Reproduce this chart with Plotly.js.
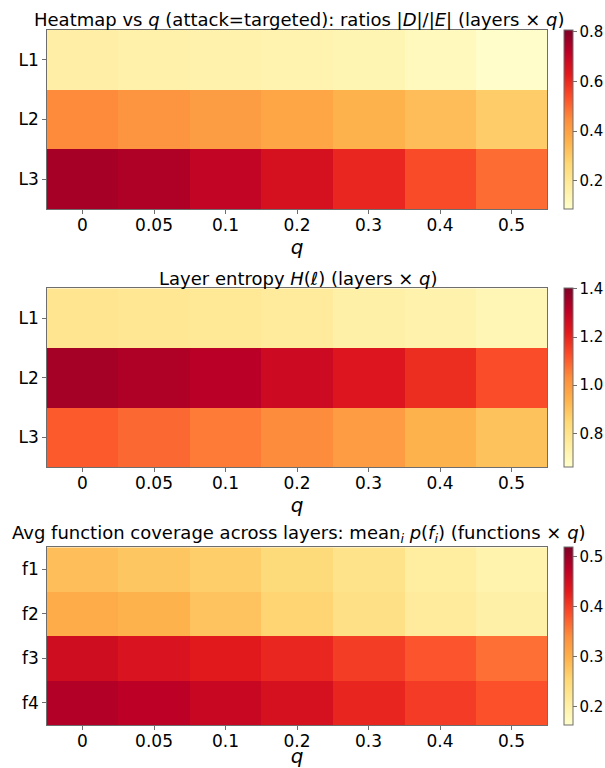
<!DOCTYPE html>
<html>
<head>
<meta charset="utf-8">
<script src="https://cdn.plot.ly/plotly-3.0.1.min.js"></script>
<style>html,body{margin:0;padding:0;background:#fff;}#chart{width:605px;height:768px;}</style>
</head>
<body>
<div id="chart"></div>
<script>
// ---- data ----
const qLabels = ["0", "0.05", "0.1", "0.2", "0.3", "0.4", "0.5"];
const layers = ["L1", "L2", "L3"];
const funcs = ["f1", "f2", "f3", "f4"];

const ratioL1 = [0.165, 0.158, 0.150, 0.146, 0.138, 0.118, 0.092];
const ratioL2 = [0.450, 0.429, 0.409, 0.388, 0.356, 0.331, 0.298];
const ratioL3 = [0.751, 0.738, 0.704, 0.659, 0.607, 0.543, 0.494];

const entropyL1 = [0.790, 0.781, 0.775, 0.764, 0.737, 0.727, 0.710];
const entropyL2 = [1.347, 1.332, 1.315, 1.274, 1.234, 1.182, 1.128];
const entropyL3 = [1.107, 1.086, 1.059, 1.033, 0.994, 0.939, 0.901];

const covF1 = [0.282, 0.274, 0.264, 0.248, 0.230, 0.207, 0.193];
const covF2 = [0.305, 0.297, 0.277, 0.256, 0.234, 0.213, 0.200];
const covF3 = [0.453, 0.442, 0.432, 0.420, 0.400, 0.381, 0.362];
const covF4 = [0.482, 0.475, 0.462, 0.446, 0.421, 0.402, 0.384];

const ratioRange = [0.087, 0.807];
const entropyRange = [0.66, 1.403];
const covRange = [0.163, 0.519];

const ratioTicks = [0.2, 0.4, 0.6, 0.8];
const entropyTicks = [0.8, 1.0, 1.2, 1.4];
const covTicks = [0.2, 0.3, 0.4, 0.5];

const titles = [
  "Heatmap vs <i>q</i> (attack=targeted): ratios |<i>D</i>|/|<i>E</i>| (layers × <i>q</i>)",
  "Layer entropy <i>H</i>(ℓ) (layers × <i>q</i>)",
  "Avg function coverage across layers: mean<sub><i>i</i></sub> <i>p</i>(<i>f<sub>i</sub></i>) (functions × <i>q</i>)"
];

// ---- style ----
const W = 605, H = 768;
const FONT = "DejaVu Sans";
const YlOrRd = [
  [0.000, "#ffffcc"], [0.125, "#ffeda0"], [0.250, "#fed976"], [0.375, "#feb24c"],
  [0.500, "#fd8d3c"], [0.625, "#fc4e2a"], [0.750, "#e31a1c"], [0.875, "#bd0026"],
  [1.000, "#800026"]
];
const frameColor = "#6e6e6e";
const xLeft = 47, xRight = 550;
const panels = [
  {top: 30, bottom: 209, titleY: 19.5},
  {top: 288.3, bottom: 467, titleY: 278},
  {top: 547.3, bottom: 725, titleY: 533.5}
];

function yDom(p) { return [1 - p.bottom / H, 1 - p.top / H]; }

function cbar(p, ticks) {
  return {
    x: 567 / W, xanchor: "left", xpad: 0, ypad: 0,
    y: 1 - (p.top + p.bottom) / 2 / H, yanchor: "middle",
    len: p.bottom - p.top, lenmode: "pixels",
    thickness: 8.5, thicknessmode: "pixels",
    outlinewidth: 1, outlinecolor: frameColor,
    tickmode: "array", tickvals: ticks, tickformat: ".1f",
    ticks: "outside", ticklen: 3.5, tickcolor: frameColor,
    tickfont: {family: FONT, size: 15, color: "#000"}
  };
}

const data = [
  {type: "heatmap", x: qLabels, y: layers, z: [ratioL1, ratioL2, ratioL3],
   zmin: ratioRange[0], zmax: ratioRange[1], colorscale: YlOrRd,
   xaxis: "x", yaxis: "y", colorbar: cbar(panels[0], ratioTicks)},
  {type: "heatmap", x: qLabels, y: layers, z: [entropyL1, entropyL2, entropyL3],
   zmin: entropyRange[0], zmax: entropyRange[1], colorscale: YlOrRd,
   xaxis: "x2", yaxis: "y2", colorbar: cbar(panels[1], entropyTicks)},
  {type: "heatmap", x: qLabels, y: funcs, z: [covF1, covF2, covF3, covF4],
   zmin: covRange[0], zmax: covRange[1], colorscale: YlOrRd,
   xaxis: "x3", yaxis: "y3", colorbar: cbar(panels[2], covTicks)}
];

function xAxis(anchor) {
  return {
    domain: [xLeft / W, xRight / W], anchor: anchor, type: "category",
    showline: true, mirror: true, linecolor: frameColor, linewidth: 1,
    ticks: "outside", ticklen: 3.5, tickcolor: frameColor,
    ticklabelstandoff: -3,
    tickfont: {family: FONT, size: 17, color: "#000"},
    showgrid: false, zeroline: false, automargin: false,
    title: {text: "<i>q</i>", font: {family: FONT, size: 20, color: "#000"}, standoff: 0}
  };
}
function yAxis(anchor, p) {
  return {
    domain: yDom(p), anchor: anchor, type: "category", autorange: "reversed",
    showline: true, mirror: true, linecolor: frameColor, linewidth: 1,
    ticks: "outside", ticklen: 3.5, tickcolor: frameColor,
    tickfont: {family: FONT, size: 17, color: "#000"},
    showgrid: false, zeroline: false, automargin: false
  };
}

const layout = {
  width: W, height: H,
  margin: {l: 0, r: 0, t: 0, b: 0},
  paper_bgcolor: "#fff", plot_bgcolor: "#fff",
  font: {family: FONT, color: "#000"},
  showlegend: false,
  xaxis: xAxis("y"), yaxis: yAxis("x", panels[0]),
  xaxis2: xAxis("y2"), yaxis2: yAxis("x2", panels[1]),
  xaxis3: xAxis("y3"), yaxis3: yAxis("x3", panels[2]),
  annotations: titles.map((t, i) => ({
    text: t, xref: "paper", yref: "paper",
    x: 300 / W, y: 1 - panels[i].titleY / H, xanchor: "center", yanchor: "middle",
    showarrow: false, font: {family: FONT, size: 18, color: "#000"}
  }))
};

Plotly.newPlot("chart", data, layout, {staticPlot: true, displayModeBar: false});
</script>
</body>
</html>
